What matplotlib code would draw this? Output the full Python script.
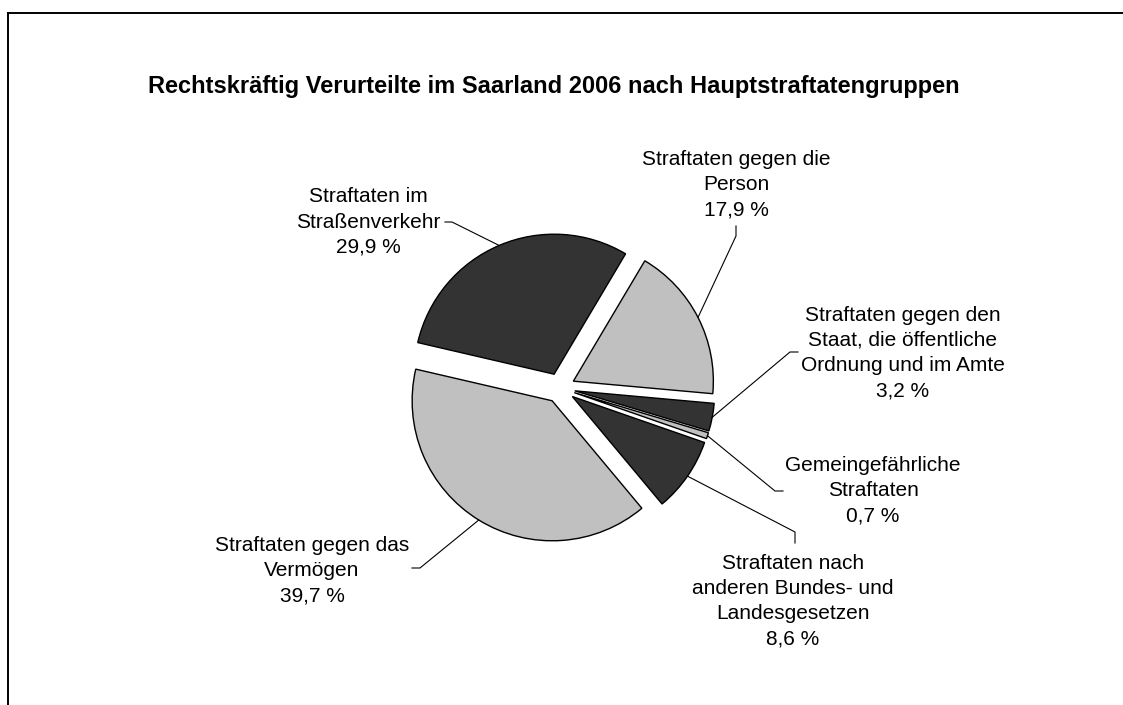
import matplotlib
matplotlib.use("Agg")
import matplotlib.pyplot as plt
import numpy as np

# ---- data ----
categories = [
    "Straftaten gegen die\nPerson",
    "Straftaten gegen den\nStaat, die öffentliche\nOrdnung und im Amte",
    "Gemeingefährliche\nStraftaten",
    "Straftaten nach\nanderen Bundes- und\nLandesgesetzen",
    "Straftaten gegen das\nVermögen",
    "Straftaten im\nStraßenverkehr",
]
shares = [17.9, 3.2, 0.7, 8.6, 39.7, 29.9]
colors = ["#C0C0C0", "#333333", "#C0C0C0", "#333333", "#C0C0C0", "#333333"]
title = "Rechtskräftig Verurteilte im Saarland 2006 nach Hauptstraftatengruppen"

# ---- layout (pixel coordinates, y from top) ----
W, H = 1123, 705
pie_center = (560, 388)
pie_radius = 140
explode_px = 15
start_angle = 59.3
# label text centers and leader elbow / end points
label_pos = [(736, 185), (903, 353), (873, 491), (793, 601), (312, 571), (368, 222)]
elbow_pos = [(736, 236), (790, 352), (775, 491), (795, 532), (420, 568), (452, 222)]
leader_end = [(736, 226), (798, 352), (783, 491), (795, 543), (412, 568), (445, 222)]

def py(y):
    return H - y

plt.rcParams['font.family'] = ['Liberation Sans', 'DejaVu Sans']

fig = plt.figure(figsize=(W / 100, H / 100), dpi=100)
ax = fig.add_axes([0, 0, 1, 1])

wedges, _ = ax.pie(
    shares,
    colors=colors,
    startangle=start_angle,
    counterclock=False,
    explode=[explode_px] * len(shares),
    radius=pie_radius,
    center=(pie_center[0], py(pie_center[1])),
    wedgeprops={'edgecolor': 'black', 'linewidth': 1.0},
)

ax.set_xlim(0, W)
ax.set_ylim(0, H)
ax.set_aspect('equal')
ax.axis('off')

for w, cat, val, lp, ep, le in zip(wedges, categories, shares, label_pos, elbow_pos, leader_end):
    theta = np.deg2rad((w.theta1 + w.theta2) / 2)
    cx, cy = w.center
    arc_pt = (cx + w.r * np.cos(theta), cy + w.r * np.sin(theta))
    ax.plot([arc_pt[0], ep[0], le[0]], [arc_pt[1], py(ep[1]), py(le[1])],
            color='black', linewidth=0.8, solid_joinstyle='miter')
    txt = f"{cat}\n" + f"{val:.1f}".replace(".", ",") + " %"
    ax.text(lp[0], py(lp[1]), txt, ha='center', va='center', fontsize=15,
            linespacing=1.42, color='black')

ax.text(554, py(87), title, ha='center', va='center', fontsize=17,
        fontweight='bold', color='black')

# chart frame (extends beyond the image on the right and bottom)
ax.plot([8, 8], [py(13), py(H + 20)], color='black', linewidth=1.4, clip_on=True)
ax.plot([8, W + 20], [py(13), py(13)], color='black', linewidth=1.4, clip_on=True)

fig.savefig("out.png", dpi=100)
